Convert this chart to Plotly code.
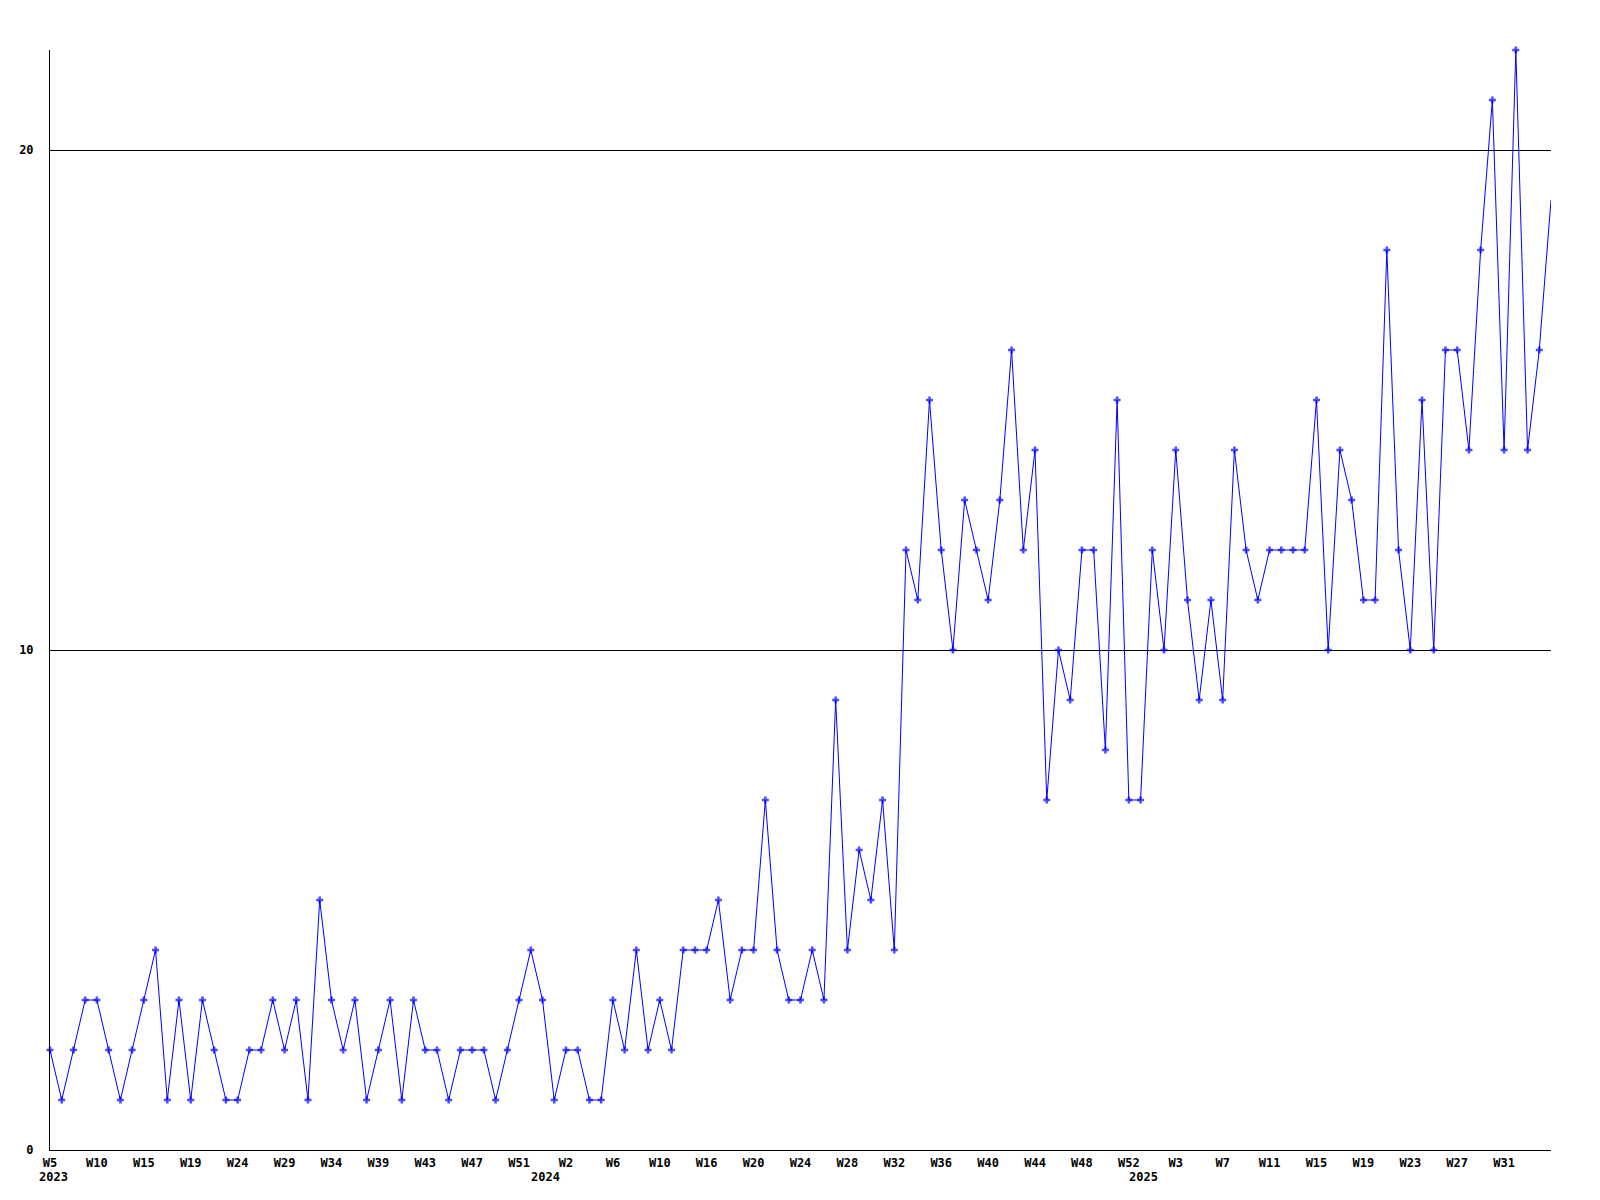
import plotly.graph_objects as go

# ---- data ----
years = [2023, 2024, 2025]
weeks_2023 = [5, 6, 7, 9, 10, 11, 12, 14, 15, 16, 17, 18, 19, 20, 21, 23, 24, 25, 26, 28,
              29, 30, 31, 33, 34, 35, 36, 38, 39, 40, 41, 42, 43, 44, 45, 46, 47, 48, 49, 50,
              51, 52]
weeks_2024 = [0, 1, 2, 3, 4, 5, 6, 7, 8, 9, 10, 12, 13, 15, 16, 17, 18, 19, 20, 21, 22, 23,
              24, 25, 26, 27, 28, 29, 30, 31, 32, 33, 34, 35, 36, 37, 38, 39, 40, 41, 42, 43,
              44, 45, 46, 47, 48, 49, 50, 51, 52]
weeks_2025 = [0, 1, 2, 3, 4, 5, 6, 7, 8, 9, 10, 11, 12, 13, 14, 15, 16, 17, 18, 19, 20, 21,
              22, 23, 24, 25, 26, 27, 28, 29, 30, 31, 32, 33, 34, 35]

counts = [2, 1, 2, 3, 3, 2, 1, 2, 3, 4, 1, 3, 1, 3, 2, 1, 1, 2, 2, 3, 2, 3, 1, 5, 3, 2, 3, 1,
          2, 3, 1, 3, 2, 2, 1, 2, 2, 2, 1, 2, 3, 4, 3, 1,
          2, 2, 1, 1, 3, 2, 4, 2, 3, 2, 4, 4, 4, 5, 3, 4, 4, 7, 4, 3, 3, 4, 3, 9, 4, 6, 5, 7, 4,
          12, 11, 15, 12, 10, 13, 12, 11, 13, 16, 12, 14, 7, 10, 9, 12, 12, 8, 15, 7, 7, 12, 10,
          14, 11, 9, 11, 9, 14,
          12, 11, 12, 12, 12, 12, 15, 10, 14, 13, 11, 11, 18, 12, 10, 15, 10, 16, 16, 14, 18, 21,
          14, 22, 14, 16, 19]

y_ticks = [0, 10, 20]

# ---- build categories ----
cats = []
week_num = []
year_of = []
for yr, wks in zip(years, [weeks_2023, weeks_2024, weeks_2025]):
    for w in wks:
        cats.append(f"{yr}-W{w:02d}")
        week_num.append(w)
        year_of.append(yr)

n = len(cats)
tick_idx = list(range(0, n - 1, 4))
tickvals = [cats[i] for i in tick_idx]
ticktext = [f"W{week_num[i]}" for i in tick_idx]

FONT = dict(family="DejaVu Sans Mono", size=12, color="black", weight="bold")

sizes = [5] * (n - 1) + [0]

fig = go.Figure()
fig.add_trace(go.Scatter(
    x=cats, y=counts, mode="lines+markers",
    line=dict(color="#0000FF", width=1),
    marker=dict(symbol="cross-thin", size=sizes, color="#0000FF",
                line=dict(color="#0000FF", width=2.5)),
    cliponaxis=False, showlegend=False, hoverinfo="x+y",
))

annotations = []
for yr in years:
    first = year_of.index(yr)
    annotations.append(dict(
        x=cats[first], y=0, xref="x", yref="paper", yshift=-27, xshift=3,
        text=str(yr), showarrow=False, font=FONT,
        xanchor="center", yanchor="middle",
    ))

fig.update_layout(
    width=1592, height=1192,
    margin=dict(l=42, r=49, t=42, b=50, autoexpand=False),
    paper_bgcolor="white", plot_bgcolor="white",
    font=FONT,
    annotations=annotations,
    xaxis=dict(
        type="category", categoryorder="array", categoryarray=cats,
        range=[0, n - 1], tickvals=tickvals, ticktext=ticktext,
        showgrid=False, zeroline=False, showline=True, linecolor="black", linewidth=1,
        ticks="", ticklabelstandoff=2, tickfont=FONT, tickangle=0, automargin=False,
    ),
    yaxis=dict(
        range=[0, 22], tickvals=y_ticks, ticktext=[str(v) for v in y_ticks],
        showgrid=True, gridcolor="black", gridwidth=1, zeroline=False,
        showline=True, linecolor="black", linewidth=1,
        ticks="", ticklabelstandoff=13, tickfont=FONT, automargin=False,
    ),
)

fig.write_html("out.html")
